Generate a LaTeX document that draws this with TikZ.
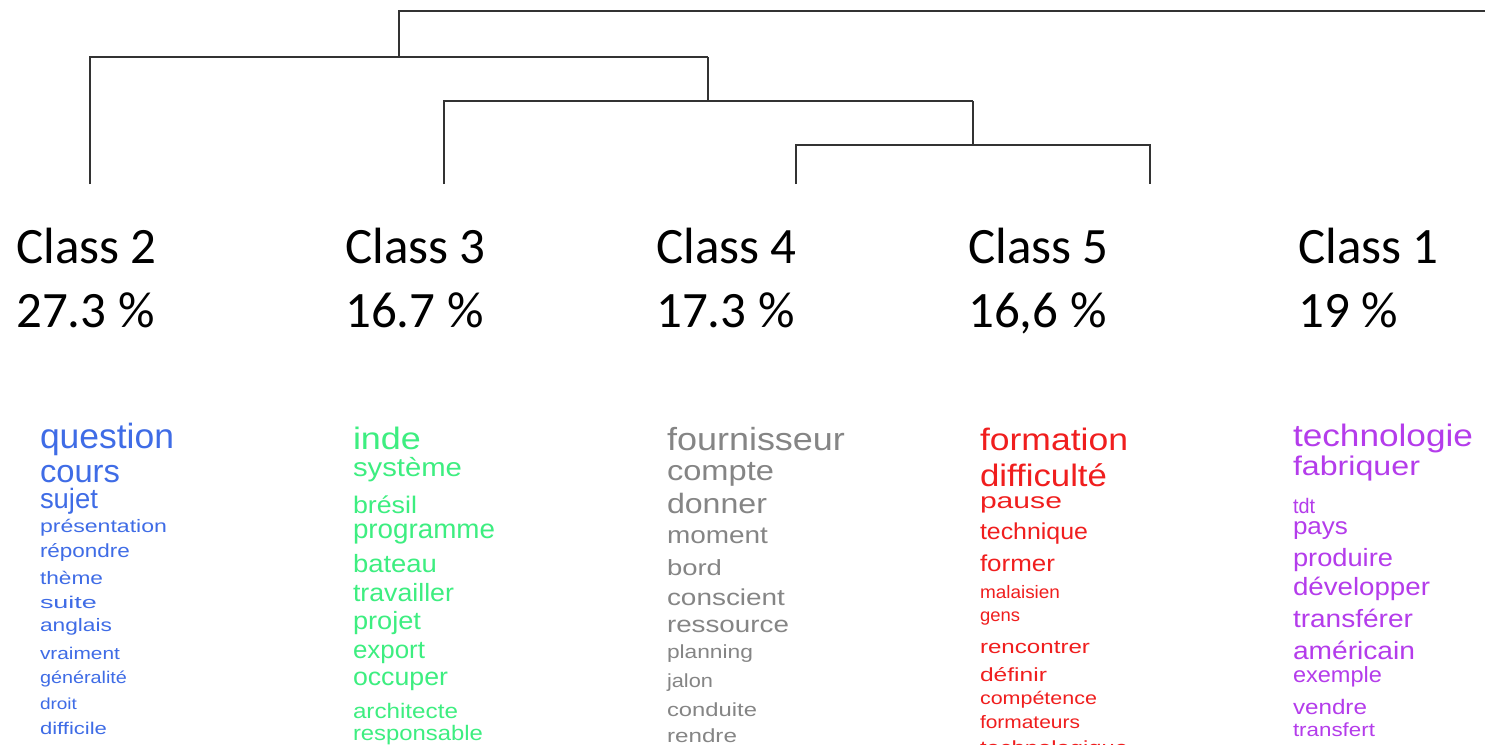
\documentclass[tikz,border=0pt]{standalone}
\usepackage{fontspec}
\usepackage{graphicx}
\setmainfont{Liberation Sans}
\newfontfamily\calib{Carlito}
\definecolor{ctwo}{HTML}{3F6CE6}
\definecolor{cthree}{HTML}{3DEE80}
\definecolor{cfour}{HTML}{858585}
\definecolor{cfive}{HTML}{F01E1E}
\definecolor{cone}{HTML}{B43CEB}
\newcommand\cw[7]{\node[word,text=#6] (#1) at (#2,#3) {\resizebox{\dimexpr #5pt-#2pt\relax}{\height}{\fontsize{#4}{#4}\selectfont #7}};}
\tikzset{
  word/.style={anchor=base west,inner sep=0pt,outer sep=0pt},
  classlbl/.style={anchor=base west,inner sep=0pt,font=\calib\fontsize{51}{51}\selectfont},
  dendro/.style={line width=1.6pt,draw=black!80}
}
\begin{document}
\begin{tikzpicture}[x=1pt,y=-1pt]
\clip (0,0) rectangle (1485,744);
\fill[white] (0,0) rectangle (1485,744);
% class labels
\node[classlbl] (k2) at (16,263) {Class 2};
\node[classlbl] (p2) at (16,327) {27.3 \%};
\node[classlbl] (k3) at (345,263) {Class 3};
\node[classlbl] (p3) at (345,327) {16.7 \%};
\node[classlbl] (k4) at (656,263) {Class 4};
\node[classlbl] (p4) at (656,327) {17.3 \%};
\node[classlbl] (k5) at (968,263) {Class 5};
\node[classlbl] (p5) at (968,327) {16,6 \%};
\node[classlbl] (k1) at (1298,263) {Class 1};
\node[classlbl] (p1) at (1298,327) {19 \%};
% dendrogram
\coordinate (l2) at (90,184);
\coordinate (l3) at (444,184);
\coordinate (l4) at (796,184);
\coordinate (l5) at (1150,184);
\coordinate (m45) at (973,145);
\coordinate (m345) at (708,101);
\coordinate (m2345) at (399,57);
\coordinate (rootR) at (1490,11);
\draw[dendro] (l4) |- (m45) -| (l5);
\draw[dendro] (m45) -- (973,101);
\draw[dendro] (l3) |- (m345) -- (973,101);
\draw[dendro] (m345) -- (708,57);
\draw[dendro] (l2) |- (m2345) -- (708,57);
\draw[dendro] (m2345) |- (rootR);
% Class 2 words
\cw{a1}{40}{448}{35}{174}{ctwo}{question}
\cw{a2}{40}{482}{32}{120}{ctwo}{cours}
\cw{a3}{40}{508}{28}{98}{ctwo}{sujet}
\cw{a4}{40}{532}{18}{167}{ctwo}{présentation}
\cw{a5}{40}{557}{19}{130}{ctwo}{répondre}
\cw{a6}{40}{584}{18}{103}{ctwo}{thème}
\cw{a7}{40}{608}{17}{97}{ctwo}{suite}
\cw{a8}{40}{631}{18}{112}{ctwo}{anglais}
\cw{a9}{40}{659}{17}{120}{ctwo}{vraiment}
\cw{a10}{40}{683}{17}{127}{ctwo}{généralité}
\cw{a11}{40}{709}{16}{77}{ctwo}{droit}
\cw{a12}{40}{734}{17}{107}{ctwo}{difficile}
% Class 3 words
\cw{b1}{353}{449}{31}{421}{cthree}{inde}
\cw{b2}{353}{476}{26}{462}{cthree}{système}
\cw{b3}{353}{513}{24}{417}{cthree}{brésil}
\cw{b4}{353}{538}{27}{495}{cthree}{programme}
\cw{b5}{353}{572}{25}{437}{cthree}{bateau}
\cw{b6}{353}{601}{25}{454}{cthree}{travailler}
\cw{b7}{353}{629}{25}{421}{cthree}{projet}
\cw{b8}{353}{658}{25}{425}{cthree}{export}
\cw{b9}{353}{685}{25}{448}{cthree}{occuper}
\cw{b10}{353}{718}{21}{458}{cthree}{architecte}
\cw{b11}{353}{740}{21}{483}{cthree}{responsable}
% Class 4 words
\cw{c1}{667}{450}{32}{845}{cfour}{fournisseur}
\cw{c2}{667}{480}{28}{774}{cfour}{compte}
\cw{c3}{667}{513}{28}{767}{cfour}{donner}
\cw{c4}{667}{543}{24}{768}{cfour}{moment}
\cw{c5}{667}{575}{22}{722}{cfour}{bord}
\cw{c6}{667}{605}{23}{785}{cfour}{conscient}
\cw{c7}{667}{632}{23}{789}{cfour}{ressource}
\cw{c8}{667}{658}{19}{753}{cfour}{planning}
\cw{c9}{667}{687}{19}{713}{cfour}{jalon}
\cw{c10}{667}{716}{19}{757}{cfour}{conduite}
\cw{c11}{667}{742}{19}{737}{cfour}{rendre}
% Class 5 words
\cw{d1}{980}{450}{31}{1128}{cfive}{formation}
\cw{d2}{980}{486}{31}{1107}{cfive}{difficulté}
\cw{d3}{980}{508}{22}{1062}{cfive}{pause}
\cw{d4}{980}{539}{23}{1088}{cfive}{technique}
\cw{d5}{980}{571}{23}{1055}{cfive}{former}
\cw{d6}{980}{598}{18}{1060}{cfive}{malaisien}
\cw{d7}{980}{621}{18}{1020}{cfive}{gens}
\cw{d8}{980}{653}{19}{1090}{cfive}{rencontrer}
\cw{d9}{980}{681}{19}{1047}{cfive}{définir}
\cw{d10}{980}{704}{18}{1097}{cfive}{compétence}
\cw{d11}{980}{728}{18}{1080}{cfive}{formateurs}
\cw{d12}{980}{754}{19}{1128}{cfive}{technologique}
% Class 1 words
\cw{e1}{1293}{446}{31}{1473}{cone}{technologie}
\cw{e2}{1293}{475}{27}{1420}{cone}{fabriquer}
\cw{e3}{1293}{513}{21}{1315}{cone}{tdt}
\cw{e4}{1293}{534}{24}{1348}{cone}{pays}
\cw{e5}{1293}{566}{25}{1393}{cone}{produire}
\cw{e6}{1293}{595}{25}{1430}{cone}{développer}
\cw{e7}{1293}{627}{25}{1413}{cone}{transférer}
\cw{e8}{1293}{659}{25}{1415}{cone}{américain}
\cw{e9}{1293}{682}{22}{1382}{cone}{exemple}
\cw{e10}{1293}{714}{21}{1367}{cone}{vendre}
\cw{e11}{1293}{736}{19}{1375}{cone}{transfert}
\end{tikzpicture}
\end{document}
